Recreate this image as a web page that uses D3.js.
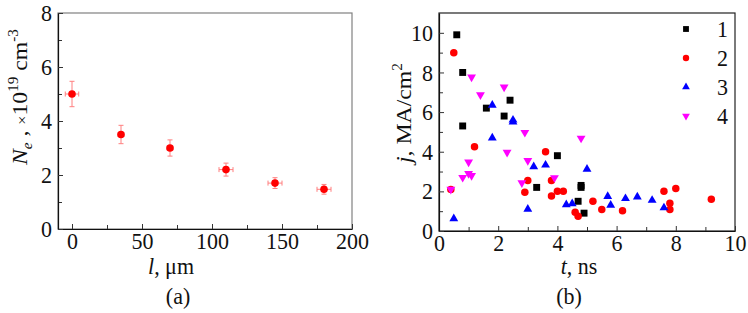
<!DOCTYPE html>
<html>
<head>
<meta charset="utf-8">
<script src="https://cdn.jsdelivr.net/npm/d3@7"></script>
<style>
  body { margin: 0; background: #fff; }
  text { font-family: "Liberation Serif", "DejaVu Serif", serif; fill: #111; }
</style>
</head>
<body>
<div id="chart"></div>
<script>
// ---- panel (a) data: N_e vs l ----
var lValues   = [0, 35, 70, 110, 145, 180];
var neValues  = [5.0, 3.5, 3.0, 2.2, 1.7, 1.47];
var neErrY    = [0.47, 0.34, 0.3, 0.24, 0.2, 0.18];
var lErrX     = [4.8, 2, 2, 5, 5, 5];

// ---- panel (b) data: j vs t, four series ----
var t1 = [0.6, 0.8, 0.8, 1.6, 2.2, 2.4, 3.3, 4.0, 4.8, 4.8, 4.7, 4.9];
var j1 = [9.9, 8.0, 5.3, 6.2, 5.8, 6.6, 2.2, 3.8, 2.3, 2.2, 1.5, 0.9];

var t2 = [0.5, 1.2, 0.4, 2.9, 3.0, 3.6, 3.8, 3.8, 4.0, 4.2, 4.6, 4.7, 5.2, 5.5, 6.2, 7.6, 7.8, 7.8, 8.0, 9.2];
var j2 = [9.0, 4.25, 2.1, 1.95, 2.55, 4.0, 2.55, 1.77, 2.0, 2.0, 0.95, 0.75, 1.5, 1.08, 1.02, 2.0, 1.4, 1.08, 2.15, 1.6];

var t3 = [0.5, 1.8, 1.8, 2.5, 2.5, 3.0, 3.2, 3.6, 4.3, 4.5, 5.0, 5.7, 5.8, 6.3, 6.7, 7.2, 7.6];
var j3 = [0.62, 6.35, 4.7, 5.6, 5.5, 1.1, 3.25, 3.33, 1.33, 1.38, 3.12, 1.75, 1.3, 1.64, 1.72, 1.55, 1.17];

var t4 = [0.4, 0.8, 1.0, 1.0, 1.1, 1.1, 1.4, 2.2, 2.3, 2.8, 2.9, 3.0, 3.9, 4.8];
var j4 = [2.1, 2.7, 3.48, 2.9, 2.8, 7.77, 6.87, 7.26, 3.97, 2.43, 4.97, 3.55, 2.69, 4.68];

var seriesNames  = ["1", "2", "3", "4"];
var seriesColors = ["#000000", "#ff0000", "#0000ff", "#ff00ff"];

var xTicksA = [0, 50, 100, 150, 200];
var yTicksA = [0, 2, 4, 6, 8];
var xTicksB = [0, 2, 4, 6, 8, 10];
var yTicksB = [0, 2, 4, 6, 8, 10];

var width = 748, height = 313;
var fontSize = 22;
var stretch = 1.08;   // the original figure is slightly taller than wide

var svg = d3.select("#chart")
    .append("svg")
        .attr("width", width)
        .attr("height", height);

svg.append("rect").attr("width", width).attr("height", height).attr("fill", "#fff");

// helper: put a text at (x,y) stretched vertically
function placeText(x, y, rot) {
    var t = svg.append("text")
        .attr("transform", "translate(" + x + "," + y + ")" +
              (rot ? " rotate(" + rot + ") scale(" + stretch + ",1)" : " scale(1," + stretch + ")"))
        .style("font-size", fontSize + "px");
    return t;
}

/* ============ PANEL (a) ============ */
var xA = d3.scaleLinear().domain([-10, 200]).range([58, 352]);
var yA = d3.scaleLinear().domain([0, 8]).range([229, 13]);

// gray frame
svg.append("rect")
    .attr("x", xA.range()[0]).attr("y", yA.range()[1])
    .attr("width", xA.range()[1] - xA.range()[0])
    .attr("height", yA.range()[0] - yA.range()[1])
    .attr("fill", "none").attr("stroke", "#808080").attr("stroke-width", 1.2);

// minor ticks
svg.append("g")
    .attr("transform", "translate(0," + yA.range()[0] + ")")
    .call(d3.axisBottom(xA).tickValues([25, 75, 125, 175]).tickSizeInner(-4).tickSizeOuter(0).tickFormat(""))
    .call(g => g.select(".domain").remove());
svg.append("g")
    .attr("transform", "translate(" + xA.range()[0] + ",0)")
    .call(d3.axisLeft(yA).tickValues([1, 3, 5, 7]).tickSizeInner(-4).tickSizeOuter(0).tickFormat(""))
    .call(g => g.select(".domain").remove());

// major axes
var axA_x = svg.append("g")
    .attr("transform", "translate(0," + yA.range()[0] + ")")
    .call(d3.axisBottom(xA).tickValues(xTicksA).tickSizeInner(-5).tickSizeOuter(0).tickPadding(3));
var axA_y = svg.append("g")
    .attr("transform", "translate(" + xA.range()[0] + ",0)")
    .call(d3.axisLeft(yA).tickValues(yTicksA).tickSizeInner(-5).tickSizeOuter(0).tickPadding(6));

// error bars
var errColor = "#ff7f7f";
var errA = svg.append("g").attr("stroke", errColor).attr("stroke-width", 1);
lValues.forEach(function(l, i) {
    var cx = xA(l), cy = yA(neValues[i]);
    var y0 = yA(neValues[i] - neErrY[i]), y1 = yA(neValues[i] + neErrY[i]);
    var x0 = xA(l - lErrX[i]), x1 = xA(l + lErrX[i]);
    errA.append("line").attr("x1", cx).attr("x2", cx).attr("y1", y0).attr("y2", y1);
    errA.append("line").attr("x1", cx - 2.5).attr("x2", cx + 2.5).attr("y1", y0).attr("y2", y0);
    errA.append("line").attr("x1", cx - 2.5).attr("x2", cx + 2.5).attr("y1", y1).attr("y2", y1);
    errA.append("line").attr("x1", x0).attr("x2", x1).attr("y1", cy).attr("y2", cy);
    errA.append("line").attr("x1", x0).attr("x2", x0).attr("y1", cy - 2.5).attr("y2", cy + 2.5);
    errA.append("line").attr("x1", x1).attr("x2", x1).attr("y1", cy - 2.5).attr("y2", cy + 2.5);
});

svg.append("g")
    .selectAll("circle")
    .data(lValues.map(function(l, i) { return {x: l, y: neValues[i]}; }))
    .enter().append("circle")
        .attr("cx", function(d) { return xA(d.x); })
        .attr("cy", function(d) { return yA(d.y); })
        .attr("r", 3.8)
        .attr("fill", "#ff0000");

/* ============ PANEL (b) ============ */
var xB = d3.scaleLinear().domain([0, 10]).range([439, 735]);
var yB = d3.scaleLinear().domain([0, 11]).range([231, 13]);

svg.append("rect")
    .attr("x", xB.range()[0]).attr("y", yB.range()[1])
    .attr("width", xB.range()[1] - xB.range()[0])
    .attr("height", yB.range()[0] - yB.range()[1])
    .attr("fill", "none").attr("stroke", "#222").attr("stroke-width", 1.2);

svg.append("g")
    .attr("transform", "translate(0," + yB.range()[0] + ")")
    .call(d3.axisBottom(xB).tickValues([1, 3, 5, 7, 9]).tickSizeInner(-4).tickSizeOuter(0).tickFormat(""))
    .call(g => g.select(".domain").remove());
svg.append("g")
    .attr("transform", "translate(" + xB.range()[0] + ",0)")
    .call(d3.axisLeft(yB).tickValues([1, 3, 5, 7, 9]).tickSizeInner(-4).tickSizeOuter(0).tickFormat(""))
    .call(g => g.select(".domain").remove());

var axB_x = svg.append("g")
    .attr("transform", "translate(0," + yB.range()[0] + ")")
    .call(d3.axisBottom(xB).tickValues(xTicksB).tickSizeInner(-5).tickSizeOuter(0).tickPadding(3));
var axB_y = svg.append("g")
    .attr("transform", "translate(" + xB.range()[0] + ",0)")
    .call(d3.axisLeft(yB).tickValues(yTicksB).tickSizeInner(-5).tickSizeOuter(0).tickPadding(6));

[axA_x, axA_y, axB_x, axB_y].forEach(function(ax) {
    ax.selectAll("text")
        .style("font-family", "'Liberation Serif', 'DejaVu Serif', serif")
        .style("font-size", fontSize + "px")
        .attr("fill", "#111")
        .attr("transform", "scale(1," + stretch + ")");
    ax.select(".domain").attr("stroke", "#111").attr("stroke-width", 1.2);
});
svg.selectAll(".tick line").attr("stroke", "#333");

// markers
var symbolTypes = [d3.symbolSquare, d3.symbolCircle, d3.symbolTriangle, d3.symbolTriangle];
var symbolSizes = [48, 44, 34, 34];
var legendSizes = [34, 32, 26, 26];
var rotations   = [0, 0, 0, 180];
var tSeries = [t1, t2, t3, t4];
var jSeries = [j1, j2, j3, j4];

seriesNames.forEach(function(name, s) {
    var pts = tSeries[s].map(function(t, i) { return {t: t, j: jSeries[s][i]}; });
    svg.append("g")
        .selectAll("path")
        .data(pts)
        .enter().append("path")
            .attr("d", d3.symbol().type(symbolTypes[s]).size(symbolSizes[s]))
            .attr("transform", function(d) {
                return "translate(" + xB(d.t) + "," + yB(d.j) + ") rotate(" + rotations[s] + ")";
            })
            .attr("fill", seriesColors[s]);
});

// legend
var legendX = 686, legendY = 29, legendSpacing = 29;
seriesNames.forEach(function(name, s) {
    svg.append("path")
        .attr("d", d3.symbol().type(symbolTypes[s]).size(legendSizes[s]))
        .attr("transform", "translate(" + legendX + "," + (legendY + s * legendSpacing) + ") rotate(" + rotations[s] + ")")
        .attr("fill", seriesColors[s]);
    placeText(legendX + 31, legendY + s * legendSpacing + 8).text(name);
});

/* ============ AXIS LABELS ============ */
var yLabA = placeText(27, 165, -90);
yLabA.append("tspan").style("font-style", "italic").text("N");
yLabA.append("tspan").style("font-style", "italic").style("font-size", "14px").attr("dy", 5).text("e");
yLabA.append("tspan").attr("dy", -5).text(" , ");
yLabA.append("tspan").style("font-size", "15px").text("×");
yLabA.append("tspan").text("10");
yLabA.append("tspan").style("font-size", "14px").attr("dy", -9).text("19");
yLabA.append("tspan").attr("dy", 9).text(" cm");
yLabA.append("tspan").style("font-size", "14px").attr("dy", -9).text("-3");

var xLabA = placeText(171, 274).attr("text-anchor", "middle");
xLabA.append("tspan").style("font-style", "italic").text("l");
xLabA.append("tspan").text(", μm");

placeText(178, 304).attr("text-anchor", "middle").text("(a)");

var yLabB = placeText(411, 163, -90);
yLabB.append("tspan").style("font-style", "italic").text("j");
yLabB.append("tspan").text(", MA/cm");
yLabB.append("tspan").style("font-size", "14px").attr("dy", -9).text("2");

var xLabB = placeText(579, 274).attr("text-anchor", "middle");
xLabB.append("tspan").style("font-style", "italic").text("t");
xLabB.append("tspan").text(", ns");

placeText(569, 304).attr("text-anchor", "middle").text("(b)");
</script>
</body>
</html>
